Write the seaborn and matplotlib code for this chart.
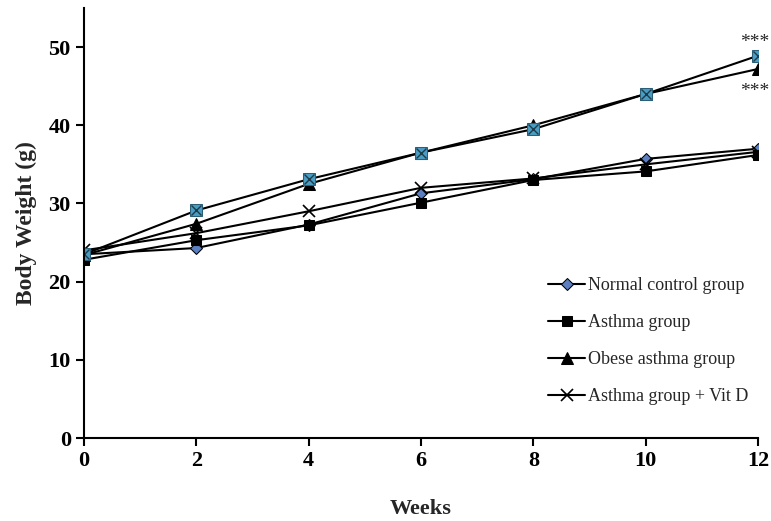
import pandas as pd
import seaborn as sns
import matplotlib.pyplot as plt

weeks = [0, 2, 4, 6, 8, 10, 12]
normal = [23.5, 24.3, 27.3, 31.3, 33.1, 35.7, 37.0]
asthma = [22.8, 25.3, 27.2, 30.1, 33.0, 34.1, 36.2]
obese = [23.4, 27.4, 32.5, 36.5, 40.0, 44.0, 47.2]
asthma_vitd = [24.0, 26.2, 29.0, 32.0, 33.2, 35.0, 36.6]
obese_vitd = [23.5, 29.1, 33.1, 36.5, 39.5, 44.0, 48.9]

labels = ["Normal control group", "Asthma group", "Obese asthma group", "Asthma group + Vit D"]

sns.set_style("ticks")
plt.rcParams['font.family'] = ['Liberation Serif', 'DejaVu Serif']

fig, ax = plt.subplots(figsize=(7.71, 5.21), dpi=100)
fig.subplots_adjust(left=84/771, right=758/771, bottom=83/521, top=513/521)

ms = 7
sns.lineplot(x=weeks, y=normal, ax=ax, color='black', lw=1.5, marker='D', markersize=ms - 1,
             markerfacecolor='#5b7fc0', markeredgecolor='black', label=labels[0])
sns.lineplot(x=weeks, y=asthma, ax=ax, color='black', lw=1.5, marker='s', markersize=ms,
             markerfacecolor='black', markeredgecolor='black', label=labels[1])
sns.lineplot(x=weeks, y=obese, ax=ax, color='black', lw=1.5, marker='^', markersize=ms + 1,
             markerfacecolor='black', markeredgecolor='black', label=labels[2])
sns.lineplot(x=weeks, y=asthma_vitd, ax=ax, color='black', lw=1.5, marker='x', markersize=ms + 1,
             markeredgecolor='black', markeredgewidth=1.2, label=labels[3])
# obese asthma + vit D (not shown in legend)
sns.lineplot(x=weeks, y=obese_vitd, ax=ax, color='black', lw=1.5, marker='s', markersize=ms + 1,
             markerfacecolor='#4a9cc0', markeredgecolor='#2b5f78', legend=False)
sns.lineplot(x=weeks, y=obese_vitd, ax=ax, color='black', lw=0, marker='x', markersize=ms,
             markeredgecolor='#1d3b4a', markeredgewidth=1.0, legend=False)

ax.text(11.94, 50.6, "***", ha='center', va='center', fontsize=14)
ax.text(11.94, 44.3, "***", ha='center', va='center', fontsize=14)

ax.set_xlim(0, 12)
ax.set_ylim(0, 55)
ax.set_xticks(weeks)
ax.set_yticks([0, 10, 20, 30, 40, 50])
sns.despine(ax=ax)
for sp in ['left', 'bottom']:
    ax.spines[sp].set_linewidth(1.5)
    ax.spines[sp].set_color('black')
ax.tick_params(axis='both', direction='out', length=6, width=1.5, labelsize=16, colors='black')
for t in ax.get_xticklabels() + ax.get_yticklabels():
    t.set_fontweight('bold')
ax.set_xlabel("Weeks", fontsize=16, fontweight='bold', labelpad=20)
ax.set_ylabel("Body Weight (g)", fontsize=17, fontweight='bold', labelpad=8)

ax.legend(loc='center left', bbox_to_anchor=(0.665, 0.225), frameon=False, fontsize=13,
          labelspacing=1.1, handlelength=2.0, handletextpad=0.2)

plt.savefig("out.png", dpi=100)
